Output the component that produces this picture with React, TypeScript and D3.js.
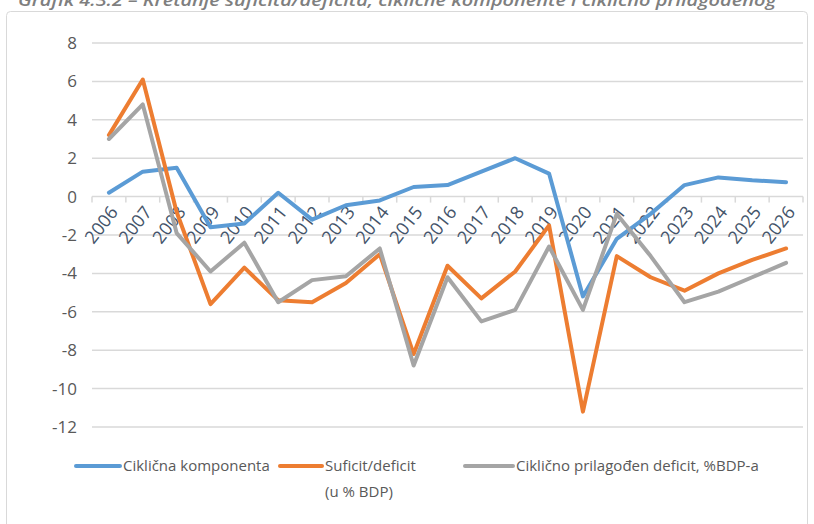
import { useRef, useEffect } from 'react';
import * as d3 from 'd3';

const years = [
  '2006', '2007', '2008', '2009', '2010', '2011', '2012', '2013', '2014', '2015', '2016',
  '2017', '2018', '2019', '2020', '2021', '2022', '2023', '2024', '2025', '2026',
];

const cyclical = [0.2, 1.3, 1.5, -1.6, -1.4, 0.2, -1.2, -0.45, -0.2, 0.5, 0.6, 1.3, 2.0, 1.2, -5.2, -2.2, -0.9, 0.6, 1.0, 0.85, 0.75];
const balance = [3.2, 6.1, -0.8, -5.6, -3.7, -5.4, -5.5, -4.5, -3.0, -8.2, -3.6, -5.3, -3.9, -1.5, -11.2, -3.1, -4.2, -4.9, -4.0, -3.3, -2.7];
const adjusted = [3.0, 4.8, -1.9, -3.9, -2.4, -5.5, -4.35, -4.15, -2.7, -8.8, -4.2, -6.5, -5.9, -2.6, -5.9, -0.9, -3.1, -5.5, -4.95, -4.2, -3.45];

const yTicks = [8, 6, 4, 2, 0, -2, -4, -6, -8, -10, -12];

const title = 'Grafik 4.3.2 – Kretanje suficita/deficita, ciklične komponente i ciklično prilagođenog';

const series = [
  { label: ['Ciklična komponenta'], values: cyclical, color: '#5b9bd5' },
  { label: ['Suficit/deficit', '(u % BDP)'], values: balance, color: '#ed7d31' },
  { label: ['Ciklično prilagođen deficit, %BDP-a'], values: adjusted, color: '#a5a5a5' },
];

const WIDTH = 814;
const HEIGHT = 524;
const FONT = '"Open Sans", sans-serif';

export default function App() {
  const ref = useRef<SVGSVGElement | null>(null);

  useEffect(() => {
    const svg = d3.select(ref.current);
    svg.selectAll('*').remove();

    const left = 92;
    const right = 803;
    const top = 43;
    const bottom = 427;

    const x = d3.scaleBand<string>().domain(years).range([left, right]);
    const y = d3.scaleLinear().domain([-12, 8]).range([bottom, top]);

    // frame + caption (cut at the top edge, as in the source)
    svg.append('rect')
      .attr('x', 6.5).attr('y', 11.5)
      .attr('width', 801).attr('height', 530)
      .attr('rx', 4)
      .attr('fill', '#fff')
      .attr('stroke', '#d9d9d9');

    svg.append('text')
      .attr('x', 18).attr('y', 6)
      .attr('textLength', 758)
      .attr('lengthAdjust', 'spacingAndGlyphs')
      .style('font-family', FONT)
      .style('font-style', 'italic')
      .style('font-weight', 600)
      .style('font-size', '17px')
      .attr('fill', '#7f7f7f')
      .text(title);

    // gridlines
    svg.append('g')
      .selectAll('line')
      .data(yTicks)
      .join('line')
      .attr('x1', left).attr('x2', right)
      .attr('y1', d => y(d)).attr('y2', d => y(d))
      .attr('stroke', '#d9d9d9')
      .attr('stroke-width', 1.5);

    // y labels
    svg.append('g')
      .selectAll('text')
      .data(yTicks)
      .join('text')
      .attr('x', 77)
      .attr('y', d => y(d))
      .attr('dy', '0.35em')
      .attr('text-anchor', 'end')
      .style('font-family', FONT)
      .style('font-size', '17px')
      .attr('fill', '#595959')
      .text(d => d);

    // category ticks on the zero line
    const edges = years.map(d => x(d)!).concat([right]);
    svg.append('g')
      .selectAll('line')
      .data(edges)
      .join('line')
      .attr('x1', d => d).attr('x2', d => d)
      .attr('y1', y(0)).attr('y2', y(0) + 6)
      .attr('stroke', '#d9d9d9')
      .attr('stroke-width', 1.5);

    // x labels, rotated
    svg.append('g')
      .selectAll('text')
      .data(years)
      .join('text')
      .attr('transform', d => `translate(${x(d)! + x.bandwidth() / 2 + 5},${y(0) + 12}) rotate(-52)`)
      .attr('text-anchor', 'end')
      .attr('dy', '0.35em')
      .style('font-family', FONT)
      .style('font-size', '18px')
      .attr('fill', '#44546a')
      .text(d => d);

    // lines
    series.forEach(s => {
      const line = d3.line<number>()
        .x((_, i) => x(years[i])! + x.bandwidth() / 2)
        .y(d => y(d));
      svg.append('path')
        .datum(s.values)
        .attr('fill', 'none')
        .attr('stroke', s.color)
        .attr('stroke-width', 4)
        .attr('stroke-linejoin', 'round')
        .attr('stroke-linecap', 'round')
        .attr('d', line);
    });

    // legend
    const legendX = [76, 280, 465];
    const legendW = [44, 42, 48];
    series.forEach((s, i) => {
      const g = svg.append('g').attr('transform', `translate(${legendX[i]},466)`);
      g.append('line')
        .attr('x1', 0).attr('x2', legendW[i])
        .attr('stroke', s.color)
        .attr('stroke-width', 4)
        .attr('stroke-linecap', 'round');
      s.label.forEach((t, j) => {
        g.append('text')
          .attr('x', legendW[i] + 3)
          .attr('y', j * 26)
          .attr('dy', '0.35em')
          .style('font-family', FONT)
          .style('font-size', '15px')
          .attr('fill', '#595959')
          .text(t);
      });
    });
  }, []);

  return (
    <svg
      ref={ref}
      width={WIDTH}
      height={HEIGHT}
      style={{ position: 'absolute', left: 0, top: 0, background: '#fff' }}
    />
  );
}
